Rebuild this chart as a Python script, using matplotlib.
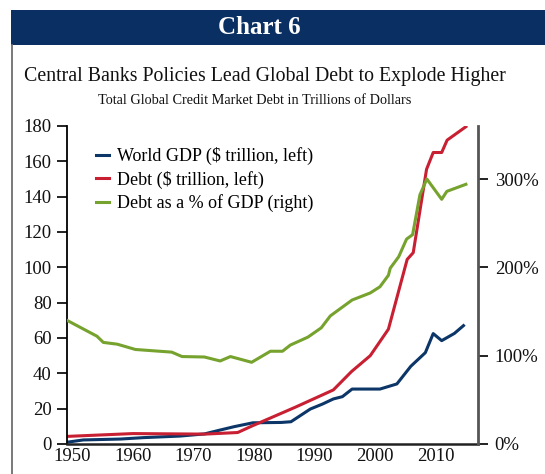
import matplotlib
matplotlib.use("Agg")
import matplotlib.pyplot as plt
from matplotlib.lines import Line2D
from matplotlib.patches import Rectangle

plt.rcParams['font.family'] = ['Liberation Serif', 'DejaVu Serif']

# ---- data ----
gdp_years = [1949.1, 1951.8, 1957.9, 1961.7, 1967.8, 1971.8, 1974.4, 1976.7, 1979.8,
             1984.5, 1986.1, 1989.3, 1991.3, 1993.1, 1994.6, 1996.2, 2000.8, 2003.6,
             2005.9, 2008.3, 2009.6, 2011.0, 2013.1, 2014.6]
gdp_values = [1.0, 2.3, 2.8, 3.6, 4.5, 5.7, 7.9, 9.8, 12.0,
              12.2, 12.6, 19.8, 22.6, 25.5, 26.8, 31.1, 31.1, 34.0,
              44.0, 51.7, 62.5, 58.5, 62.6, 67.0]

debt_years = [1949.1, 1960.0, 1971.9, 1977.3, 1979.8, 1986.8, 1993.1, 1996.1, 1999.2,
              2002.2, 2005.3, 2006.3, 2008.5, 2009.6, 2011.0, 2011.9, 2015.0]
debt_values = [4.3, 5.9, 5.6, 6.5, 10.4, 20.8, 30.6, 41.0, 50.0,
               65.0, 104.5, 108.3, 155.5, 165.0, 165.0, 172.0, 179.6]

ratio_years = [1949.1, 1954.05, 1955.1, 1957.4, 1960.4, 1966.4, 1968.1, 1971.8, 1974.4,
               1976.1, 1979.6, 1982.7, 1984.7, 1986.0, 1988.9, 1991.1, 1992.6, 1994.0,
               1996.2, 1999.2, 2000.8, 2002.2, 2002.5, 2003.9, 2005.2, 2006.2, 2007.4,
               2008.55, 2011.0, 2011.85, 2015.0]
ratio_values = [140, 122, 115, 113, 107, 104, 99, 98.5, 94,
                99, 92.5, 105, 105, 112, 121, 131.5, 145, 152,
                163, 171, 178, 191, 199, 212, 232, 237, 282,
                300, 277, 286, 294]

labels = ['World GDP ($ trillion, left)', 'Debt ($ trillion, left)', 'Debt as a % of GDP (right)']
left_ticks = [0, 20, 40, 60, 80, 100, 120, 140, 160, 180]
right_ticks = [0, 100, 200, 300]
x_ticks = [1950, 1960, 1970, 1980, 1990, 2000, 2010]

c_gdp = '#0b3667'
c_debt = '#c81f32'
c_ratio = '#76a22e'
navy = '#0a2f62'

W, H = 545, 474
fig = plt.figure(figsize=(W / 100, H / 100), dpi=100)

# header band
fig.patches.append(Rectangle((11 / W, 1 - 45 / H), 1 - 11 / W, 35 / H,
                             transform=fig.transFigure, facecolor=navy, edgecolor='none'))
fig.text(259 / W, 1 - 28 / H, 'Chart 6', color='white', fontsize=18, fontweight='bold',
         ha='center', va='center')
# left border
fig.add_artist(Line2D([12 / W, 12 / W], [0, 1 - 45 / H], transform=fig.transFigure,
                      color='#6e6e6e', lw=1.3))

fig.text(265 / W, 1 - 76 / H, 'Central Banks Policies Lead Global Debt to Explode Higher',
         fontsize=14.3, ha='center', va='center', color='#111111')
fig.text(255 / W, 1 - 100 / H, 'Total Global Credit Market Debt in Trillions of Dollars',
         fontsize=10.3, ha='center', va='center', color='#111111')

ax = fig.add_axes([67 / W, 30 / H, (478 - 67) / W, (444 - 126) / H])
ax2 = ax.twinx()

l1, = ax.plot(gdp_years, gdp_values, color=c_gdp, lw=2.2)
l2, = ax.plot(debt_years, debt_values, color=c_debt, lw=2.2)
l3, = ax2.plot(ratio_years, ratio_values, color=c_ratio, lw=2.2)

ax.set_xlim(1949.1, 2017.0)
ax.set_ylim(0, 180)
ax2.set_ylim(0, 360)

ax.set_yticks(left_ticks)
ax.set_yticklabels([str(v) for v in left_ticks])
ax2.set_yticks(right_ticks)
ax2.set_yticklabels([f'{v}%' for v in right_ticks])
ax.set_xticks(x_ticks)
ax.set_xticklabels([str(v) for v in x_ticks])

for a in (ax, ax2):
    a.spines['top'].set_visible(False)
    a.patch.set_visible(False)
ax.spines['right'].set_visible(False)
ax2.spines['left'].set_visible(False)
ax2.spines['bottom'].set_visible(False)
ax.spines['left'].set_color('black')
ax.spines['left'].set_linewidth(1.3)
ax.spines['bottom'].set_color('#222222')
ax.spines['bottom'].set_linewidth(1.8)
ax2.spines['right'].set_color('#555555')
ax2.spines['right'].set_linewidth(2.0)

ax.tick_params(axis='y', length=7, width=1.3, pad=4, labelsize=13.5, colors='#111111')
ax.tick_params(axis='x', length=0, pad=3, labelsize=13.5, colors='#111111')
ax2.tick_params(axis='y', length=7, width=1.3, pad=5, labelsize=13.5, colors='#111111')

leg = ax.legend([l1, l2, l3], labels, loc='upper left', bbox_to_anchor=(0.07, 0.933),
                frameon=False, fontsize=13, handlelength=0.75, handletextpad=0.45,
                labelspacing=0.3, borderaxespad=0, borderpad=0)
for h in leg.get_lines():
    h.set_linewidth(2.2)

fig.savefig('out.png', dpi=100, facecolor='white')
